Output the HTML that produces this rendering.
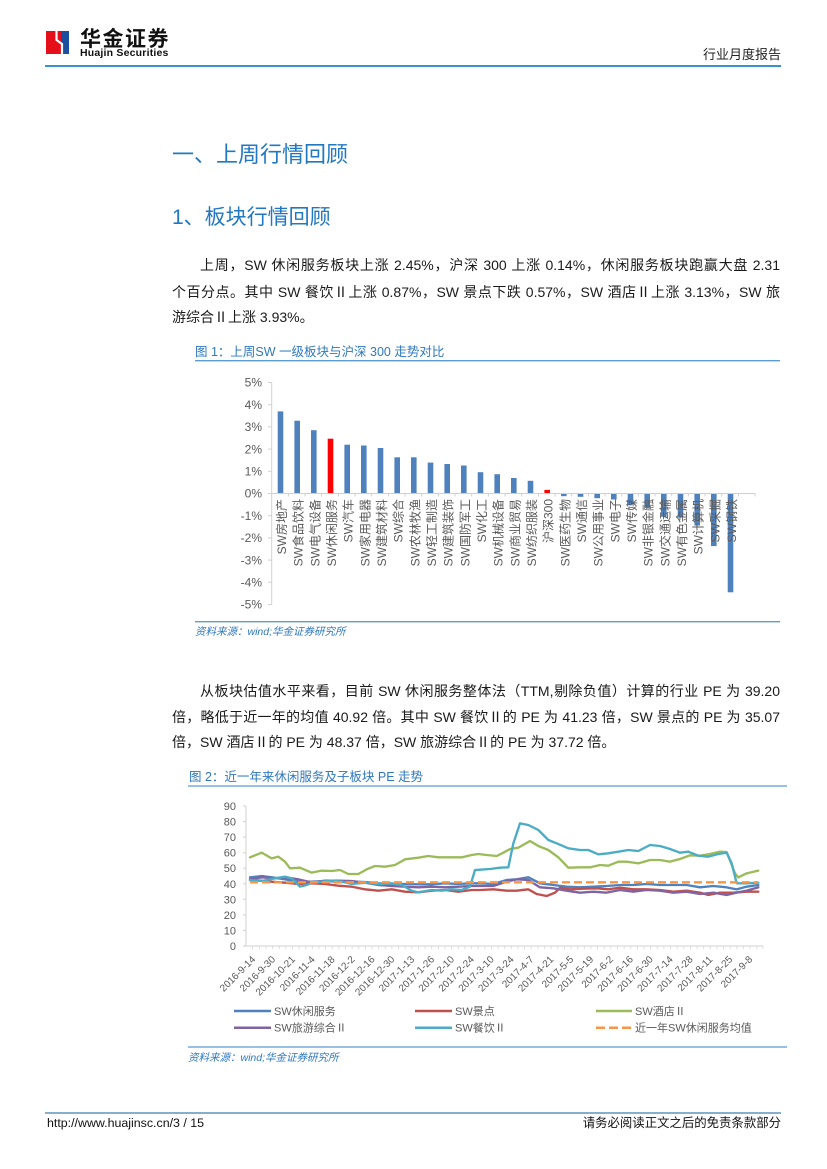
<!DOCTYPE html>
<html>
<head>
<meta charset="utf-8">
<style>
  html,body{margin:0;padding:0;background:#fff;}
  body{width:827px;height:1169px;position:relative;overflow:hidden;font-family:"Liberation Sans","Noto Sans CJK SC",sans-serif;color:#1a1a1a;}
  .abs{position:absolute;white-space:nowrap;}
  .h1{font-size:22px;color:#1f78c1;left:172px;top:141px;line-height:28px;}
  .h2{font-size:21px;color:#1f78c1;left:172px;top:204px;line-height:28px;}
  .p{font-size:14px;line-height:20px;}
  .j{text-align:justify;text-align-last:justify;}
  .cap{font-size:12.5px;color:#2e78c0;line-height:16px;}
  .src{font-size:10.5px;color:#2e78c0;font-style:italic;line-height:14px;}
</style>
</head>
<body>
<svg class="abs" style="left:0;top:0" width="827" height="1169" viewBox="0 0 827 1169">
  <!-- logo -->
  <rect x="46" y="31" width="15" height="23" fill="#e50f1a"/>
  <rect x="61" y="31" width="8" height="23" fill="#1c4f9d"/>
  <path d="M56.5,31 V40 L62,44 V54" stroke="#fff" stroke-width="2.2" fill="none"/>
  <text x="80" y="46" font-family="'Noto Sans CJK SC','WenQuanYi Zen Hei',sans-serif" font-size="21" font-weight="bold" fill="#111" letter-spacing="1.5">华金证券</text>
  <text x="80" y="56" font-family="'Liberation Sans',sans-serif" font-size="10.5" font-weight="bold" fill="#111" letter-spacing="0.2">Huajin Securities</text>
  <!-- header line -->
  <line x1="45" y1="66" x2="781" y2="66" stroke="#3a92c6" stroke-width="2"/>
  <!-- footer line -->
  <line x1="45" y1="1113" x2="781" y2="1113" stroke="#5b95bd" stroke-width="1.5"/>

  <!-- ============ Chart 1 ============ -->
  <line x1="195" y1="360.7" x2="780" y2="360.7" stroke="#5b9bd5" stroke-width="1.3"/>
  <line x1="195" y1="621.7" x2="780" y2="621.7" stroke="#5b9bd5" stroke-width="1.3"/>
  <!-- y axis -->
  <line x1="271.7" y1="382.5" x2="271.7" y2="604.5" stroke="#d0d0d0" stroke-width="1"/>
  <g stroke="#d0d0d0" stroke-width="1">
    <line x1="268" y1="382.5" x2="271.7" y2="382.5"/><line x1="268" y1="404.7" x2="271.7" y2="404.7"/>
    <line x1="268" y1="426.9" x2="271.7" y2="426.9"/><line x1="268" y1="449.1" x2="271.7" y2="449.1"/>
    <line x1="268" y1="471.3" x2="271.7" y2="471.3"/><line x1="268" y1="493.5" x2="271.7" y2="493.5"/>
    <line x1="268" y1="515.7" x2="271.7" y2="515.7"/><line x1="268" y1="537.9" x2="271.7" y2="537.9"/>
    <line x1="268" y1="560.1" x2="271.7" y2="560.1"/><line x1="268" y1="582.3" x2="271.7" y2="582.3"/>
    <line x1="268" y1="604.5" x2="271.7" y2="604.5"/>
  </g>
  <g font-size="12" fill="#595959" text-anchor="end" font-family="'Liberation Sans',sans-serif">
    <text x="262" y="386.7">5%</text><text x="262" y="408.9">4%</text><text x="262" y="431.1">3%</text>
    <text x="262" y="453.3">2%</text><text x="262" y="475.5">1%</text><text x="262" y="497.7">0%</text>
    <text x="262" y="519.9">-1%</text><text x="262" y="542.1">-2%</text><text x="262" y="564.3">-3%</text>
    <text x="262" y="586.5">-4%</text><text x="262" y="608.7">-5%</text>
  </g>
  <!-- bars -->
  <g fill="#4f81bd">
    <rect x="277.7" y="411.4" width="5.6" height="82.1"/>
    <rect x="294.4" y="420.7" width="5.6" height="72.8"/>
    <rect x="311.0" y="430.2" width="5.6" height="63.3"/>
    <rect x="327.7" y="438.7" width="5.6" height="54.8" fill="#ff0000"/>
    <rect x="344.4" y="444.7" width="5.6" height="48.8"/>
    <rect x="361.0" y="445.5" width="5.6" height="48.0"/>
    <rect x="377.7" y="448.0" width="5.6" height="45.5"/>
    <rect x="394.4" y="457.3" width="5.6" height="36.2"/>
    <rect x="411.0" y="457.3" width="5.6" height="36.2"/>
    <rect x="427.7" y="462.6" width="5.6" height="30.9"/>
    <rect x="444.4" y="464.0" width="5.6" height="29.5"/>
    <rect x="461.0" y="465.5" width="5.6" height="28.0"/>
    <rect x="477.7" y="472.2" width="5.6" height="21.3"/>
    <rect x="494.4" y="474.2" width="5.6" height="19.3"/>
    <rect x="511.0" y="478.0" width="5.6" height="15.5"/>
    <rect x="527.7" y="480.8" width="5.6" height="12.7"/>
    <rect x="544.4" y="489.9" width="5.6" height="3.6" fill="#ff0000"/>
    <rect x="561.0" y="493.5" width="5.6" height="2.7"/>
    <rect x="577.7" y="493.5" width="5.6" height="3.3"/>
    <rect x="594.4" y="493.5" width="5.6" height="4.7"/>
    <rect x="611.0" y="493.5" width="5.6" height="6.0"/>
    <rect x="627.7" y="493.5" width="5.6" height="11.1"/>
    <rect x="644.4" y="493.5" width="5.6" height="14.4"/>
    <rect x="661.0" y="493.5" width="5.6" height="23.3"/>
    <rect x="677.7" y="493.5" width="5.6" height="24.0"/>
    <rect x="694.4" y="493.5" width="5.6" height="32.0"/>
    <rect x="711.0" y="493.5" width="5.6" height="52.6"/>
    <rect x="727.7" y="493.5" width="5.6" height="98.8"/>
  </g>
  <!-- x axis -->
  <line x1="271.7" y1="493.5" x2="755" y2="493.5" stroke="#d0d0d0" stroke-width="1"/>
  <g stroke="#d0d0d0" stroke-width="1">
    <path d="M288.4,493.5v3M305.1,493.5v3M321.7,493.5v3M338.4,493.5v3M355.1,493.5v3M371.7,493.5v3M388.4,493.5v3M405.1,493.5v3M421.7,493.5v3M438.4,493.5v3M455.1,493.5v3M471.7,493.5v3M488.4,493.5v3M505.1,493.5v3M521.7,493.5v3M538.4,493.5v3M555.1,493.5v3M571.7,493.5v3M588.4,493.5v3M605.1,493.5v3M621.7,493.5v3M638.4,493.5v3M655.1,493.5v3M671.7,493.5v3M688.4,493.5v3M705.1,493.5v3M721.7,493.5v3M738.4,493.5v3M755,493.5v3"/>
  </g>
  <g font-size="12" fill="#595959" text-anchor="end" font-family="'Liberation Sans','Noto Sans CJK SC',sans-serif">
    <text transform="translate(286.0,499) rotate(-90)">SW房地产</text>
    <text transform="translate(302.7,499) rotate(-90)">SW食品饮料</text>
    <text transform="translate(319.3,499) rotate(-90)">SW电气设备</text>
    <text transform="translate(336.0,499) rotate(-90)">SW休闲服务</text>
    <text transform="translate(352.7,499) rotate(-90)">SW汽车</text>
    <text transform="translate(369.3,499) rotate(-90)">SW家用电器</text>
    <text transform="translate(386.0,499) rotate(-90)">SW建筑材料</text>
    <text transform="translate(402.7,499) rotate(-90)">SW综合</text>
    <text transform="translate(419.3,499) rotate(-90)">SW农林牧渔</text>
    <text transform="translate(436.0,499) rotate(-90)">SW轻工制造</text>
    <text transform="translate(452.7,499) rotate(-90)">SW建筑装饰</text>
    <text transform="translate(469.3,499) rotate(-90)">SW国防军工</text>
    <text transform="translate(486.0,499) rotate(-90)">SW化工</text>
    <text transform="translate(502.7,499) rotate(-90)">SW机械设备</text>
    <text transform="translate(519.3,499) rotate(-90)">SW商业贸易</text>
    <text transform="translate(536.0,499) rotate(-90)">SW纺织服装</text>
    <text transform="translate(552.7,499) rotate(-90)">沪深300</text>
    <text transform="translate(569.3,499) rotate(-90)">SW医药生物</text>
    <text transform="translate(586.0,499) rotate(-90)">SW通信</text>
    <text transform="translate(602.7,499) rotate(-90)">SW公用事业</text>
    <text transform="translate(619.3,499) rotate(-90)">SW电子</text>
    <text transform="translate(636.0,499) rotate(-90)">SW传媒</text>
    <text transform="translate(652.7,499) rotate(-90)">SW非银金融</text>
    <text transform="translate(669.3,499) rotate(-90)">SW交通运输</text>
    <text transform="translate(686.0,499) rotate(-90)">SW有色金属</text>
    <text transform="translate(702.7,499) rotate(-90)">SW计算机</text>
    <text transform="translate(719.3,499) rotate(-90)">SW采掘</text>
    <text transform="translate(736.0,499) rotate(-90)">SW钢铁</text>
  </g>

  <!-- ============ Chart 2 ============ -->
  <line x1="188" y1="786" x2="787" y2="786" stroke="#5b9bd5" stroke-width="1.3"/>
  <line x1="188" y1="1047" x2="787" y2="1047" stroke="#5b9bd5" stroke-width="1.3"/>
  <line x1="246" y1="806" x2="246" y2="946" stroke="#d0d0d0" stroke-width="1"/>
  <line x1="246" y1="946" x2="763" y2="946" stroke="#d0d0d0" stroke-width="1"/>
  <g stroke="#d0d0d0" stroke-width="1">
    <path d="M243,806h3M243,821.6h3M243,837.1h3M243,852.7h3M243,868.2h3M243,883.8h3M243,899.3h3M243,914.9h3M243,930.4h3M243,946h3"/>
  </g>
  <g stroke="#d6d6d6" stroke-width="0.8" id="xt"></g>
  <g font-size="11" fill="#595959" text-anchor="end" font-family="'Liberation Sans',sans-serif">
    <text x="236" y="810">90</text><text x="236" y="825.6">80</text><text x="236" y="841.1">70</text>
    <text x="236" y="856.7">60</text><text x="236" y="872.2">50</text><text x="236" y="887.8">40</text>
    <text x="236" y="903.3">30</text><text x="236" y="918.9">20</text><text x="236" y="934.4">10</text>
    <text x="236" y="950">0</text>
  </g>
  <g font-size="10" fill="#595959" text-anchor="end" font-family="'Liberation Sans',sans-serif">
    <text transform="translate(256,960) rotate(-45)">2016-9-14</text>
    <text transform="translate(275.9,960) rotate(-45)">2016-9-30</text>
    <text transform="translate(295.8,960) rotate(-45)">2016-10-21</text>
    <text transform="translate(315.6,960) rotate(-45)">2016-11-4</text>
    <text transform="translate(335.5,960) rotate(-45)">2016-11-18</text>
    <text transform="translate(355.4,960) rotate(-45)">2016-12-2</text>
    <text transform="translate(375.3,960) rotate(-45)">2016-12-16</text>
    <text transform="translate(395.2,960) rotate(-45)">2016-12-30</text>
    <text transform="translate(415.0,960) rotate(-45)">2017-1-13</text>
    <text transform="translate(434.9,960) rotate(-45)">2017-1-26</text>
    <text transform="translate(454.8,960) rotate(-45)">2017-2-10</text>
    <text transform="translate(474.7,960) rotate(-45)">2017-2-24</text>
    <text transform="translate(494.6,960) rotate(-45)">2017-3-10</text>
    <text transform="translate(514.4,960) rotate(-45)">2017-3-24</text>
    <text transform="translate(534.3,960) rotate(-45)">2017-4-7</text>
    <text transform="translate(554.2,960) rotate(-45)">2017-4-21</text>
    <text transform="translate(574.1,960) rotate(-45)">2017-5-5</text>
    <text transform="translate(594.0,960) rotate(-45)">2017-5-19</text>
    <text transform="translate(613.8,960) rotate(-45)">2017-6-2</text>
    <text transform="translate(633.7,960) rotate(-45)">2017-6-16</text>
    <text transform="translate(653.6,960) rotate(-45)">2017-6-30</text>
    <text transform="translate(673.5,960) rotate(-45)">2017-7-14</text>
    <text transform="translate(693.4,960) rotate(-45)">2017-7-28</text>
    <text transform="translate(713.2,960) rotate(-45)">2017-8-11</text>
    <text transform="translate(733.1,960) rotate(-45)">2017-8-25</text>
    <text transform="translate(753.0,960) rotate(-45)">2017-9-8</text>
  </g>
  <!-- series (coordinates in 3x frame) -->
  <g transform="translate(185 770) scale(0.33333)" fill="none" stroke-width="7" stroke-linejoin="round" stroke-linecap="round">
    <polyline stroke="#4f81bd" points="195,322 230,318 260,322 300,328 340,335 380,335 420,333 460,335 500,335 540,336 580,340 620,342 660,342 700,343 740,343 780,340 820,342 860,340 885,340 925,342 965,330 995,328 1030,322 1065,340 1105,345 1145,350 1185,352 1225,350 1265,348 1305,345 1345,345 1385,342 1425,345 1465,345 1505,345 1545,352 1585,348 1625,352 1655,358 1685,350 1720,345"/>
    <polyline stroke="#c0504d" points="195,330 230,332 260,335 300,338 340,342 380,340 420,342 460,347 500,350 540,358 580,362 620,358 660,365 700,367 740,362 780,360 820,365 860,360 885,360 925,358 965,362 995,362 1030,358 1055,372 1085,378 1110,368 1125,353 1155,358 1195,356 1235,355 1270,358 1305,353 1345,358 1385,358 1425,360 1465,365 1505,362 1545,368 1570,375 1605,368 1645,368 1685,365 1720,365"/>
    <polyline stroke="#9bbb59" points="195,262 230,248 260,265 280,260 300,275 315,295 345,293 380,308 410,302 440,303 465,300 490,312 520,312 545,298 570,288 600,290 630,285 660,268 700,263 730,258 760,262 800,262 830,262 860,255 880,252 905,255 935,258 955,248 975,237 1000,233 1035,213 1060,228 1090,240 1120,262 1150,293 1185,292 1215,292 1245,285 1270,287 1300,275 1325,275 1360,280 1395,270 1425,270 1455,275 1485,267 1515,256 1545,257 1575,252 1605,245 1625,246 1650,310 1660,322 1685,310 1720,302"/>
    <polyline stroke="#8064a2" points="195,328 230,322 270,325 300,322 340,328 380,337 420,332 460,332 500,333 540,338 580,345 620,348 660,350 700,352 740,350 780,352 820,350 860,348 885,348 925,348 965,335 995,328 1030,330 1065,352 1105,355 1145,362 1185,368 1225,365 1265,368 1305,360 1345,365 1385,360 1425,362 1465,368 1505,365 1545,372 1585,368 1625,375 1655,368 1685,362 1720,352"/>
    <polyline stroke="#4bacc6" points="195,330 230,333 270,325 300,320 320,325 345,350 365,345 380,338 410,335 440,332 470,335 500,342 540,338 580,342 620,340 650,345 680,362 700,367 740,360 770,362 800,358 830,360 855,350 870,300 885,299 915,297 945,293 970,292 985,220 1005,160 1030,165 1060,180 1090,210 1115,220 1150,235 1185,240 1210,240 1240,253 1270,250 1300,245 1330,240 1360,243 1395,225 1425,228 1455,237 1485,248 1510,245 1540,257 1570,260 1600,252 1625,248 1640,280 1655,340 1685,340 1720,338"/>
  </g>
  <line x1="250" y1="882.3" x2="758" y2="882.3" stroke="#f79646" stroke-width="2.3" stroke-dasharray="8 4"/>
  <!-- legend -->
  <g stroke-width="2.5">
    <line x1="234" y1="1011" x2="271" y2="1011" stroke="#4f81bd"/>
    <line x1="415" y1="1011" x2="452" y2="1011" stroke="#c0504d"/>
    <line x1="596" y1="1011" x2="632" y2="1011" stroke="#9bbb59"/>
    <line x1="234" y1="1027.7" x2="271" y2="1027.7" stroke="#8064a2"/>
    <line x1="415" y1="1027.7" x2="452" y2="1027.7" stroke="#4bacc6"/>
    <line x1="596" y1="1027.7" x2="632" y2="1027.7" stroke="#f79646" stroke-dasharray="9 4"/>
  </g>
  <g font-size="11" fill="#595959" font-family="'Liberation Sans','Noto Sans CJK SC',sans-serif">
    <text x="274" y="1015">SW休闲服务</text>
    <text x="455" y="1015">SW景点</text>
    <text x="635" y="1015">SW酒店Ⅱ</text>
    <text x="274" y="1031.7">SW旅游综合Ⅱ</text>
    <text x="455" y="1031.7">SW餐饮Ⅱ</text>
    <text x="635" y="1031.7">近一年SW休闲服务均值</text>
  </g>
  <g stroke="#d6d6d6" stroke-width="0.8">
    <path d="M252.6,946v3M259.3,946v3M265.9,946v3M272.5,946v3M279.2,946v3M285.8,946v3M292.4,946v3M299.1,946v3M305.7,946v3M312.3,946v3M319,946v3M325.6,946v3M332.2,946v3M338.9,946v3M345.5,946v3M352.1,946v3M358.8,946v3M365.4,946v3M372,946v3M378.7,946v3M385.3,946v3M391.9,946v3M398.6,946v3M405.2,946v3M411.8,946v3M418.5,946v3M425.1,946v3M431.7,946v3M438.4,946v3M445,946v3M451.6,946v3M458.3,946v3M464.9,946v3M471.5,946v3M478.2,946v3M484.8,946v3M491.4,946v3M498.1,946v3M504.7,946v3M511.3,946v3M518,946v3M524.6,946v3M531.2,946v3M537.9,946v3M544.5,946v3M551.1,946v3M557.8,946v3M564.4,946v3M571,946v3M577.7,946v3M584.3,946v3M590.9,946v3M597.6,946v3M604.2,946v3M610.8,946v3M617.5,946v3M624.1,946v3M630.7,946v3M637.4,946v3M644,946v3M650.6,946v3M657.3,946v3M663.9,946v3M670.5,946v3M677.2,946v3M683.8,946v3M690.4,946v3M697.1,946v3M703.7,946v3M710.3,946v3M717,946v3M723.6,946v3M730.2,946v3M736.9,946v3M743.5,946v3M750.1,946v3M756.8,946v3M763,946v3"/>
  </g>
</svg>

<div class="abs" style="right:46px;top:47px;font-size:13px;line-height:16px;color:#222;">行业月度报告</div>

<div class="abs h1">一、上周行情回顾</div>
<div class="abs h2">1、板块行情回顾</div>

<div class="abs p j" style="left:200px;width:580px;top:255px;">上周，SW 休闲服务板块上涨 2.45%，沪深 300 上涨 0.14%，休闲服务板块跑赢大盘 2.31</div>
<div class="abs p j" style="left:172px;width:608px;top:282px;">个百分点。其中 SW 餐饮Ⅱ上涨 0.87%，SW 景点下跌 0.57%，SW 酒店Ⅱ上涨 3.13%，SW 旅</div>
<div class="abs p" style="left:172px;top:307px;">游综合Ⅱ上涨 3.93%。</div>

<div class="abs cap" style="left:195px;top:344px;">图 1：上周SW 一级板块与沪深 300 走势对比</div>
<div class="abs src" style="left:195px;top:625px;">资料来源：wind;华金证券研究所</div>

<div class="abs p j" style="left:200px;width:580px;top:681px;">从板块估值水平来看，目前 SW 休闲服务整体法（TTM,剔除负值）计算的行业 PE 为 39.20</div>
<div class="abs p j" style="left:172px;width:608px;top:707px;">倍，略低于近一年的均值 40.92 倍。其中 SW 餐饮Ⅱ的 PE 为 41.23 倍，SW 景点的 PE 为 35.07</div>
<div class="abs p" style="left:172px;top:732px;">倍，SW 酒店Ⅱ的 PE 为 48.37 倍，SW 旅游综合Ⅱ的 PE 为 37.72 倍。</div>

<div class="abs cap" style="left:189px;top:769px;">图 2：近一年来休闲服务及子板块 PE 走势</div>
<div class="abs src" style="left:188px;top:1051px;">资料来源：wind;华金证券研究所</div>

<div class="abs" style="left:47px;top:1115px;font-size:12.4px;line-height:16px;color:#111;">http://www.huajinsc.cn/3 / 15</div>
<div class="abs" style="right:46px;top:1115px;font-size:12.4px;line-height:16px;color:#111;">请务必阅读正文之后的免责条款部分</div>
</body>
</html>
